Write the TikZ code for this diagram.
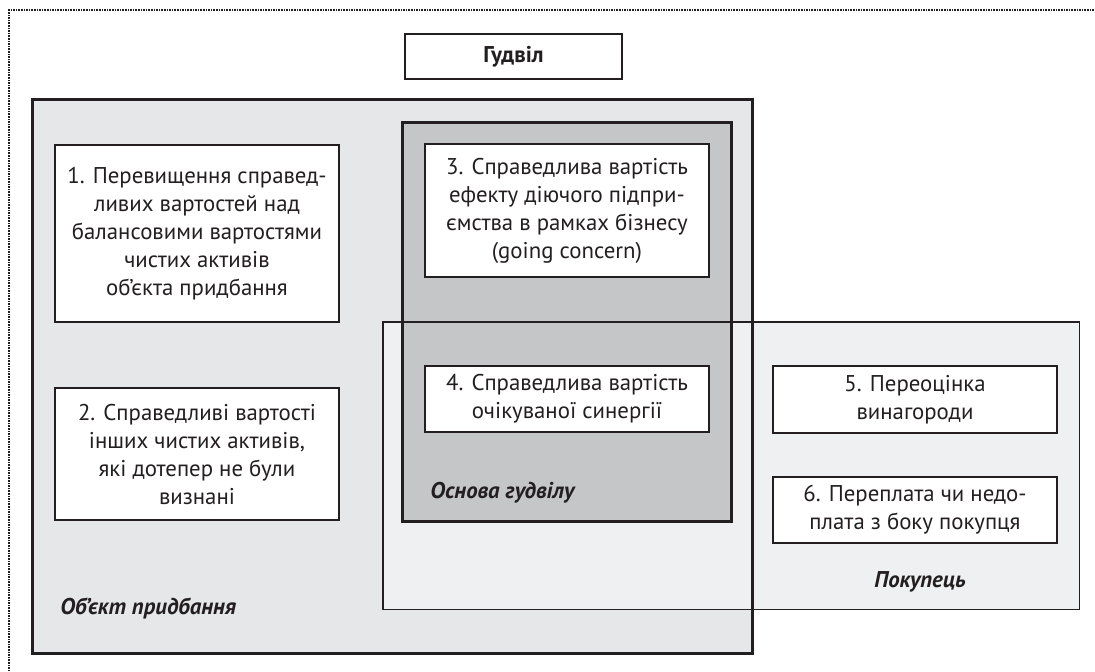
\documentclass[tikz,border=0pt]{standalone}
\usepackage{fontspec}
\setmainfont{PT Sans}
\usepackage{tikz}
\usetikzlibrary{positioning}

\definecolor{edge}{HTML}{231F20}
\definecolor{objfill}{HTML}{E6E7E8}
\definecolor{basefill}{HTML}{C5C6C8}
\definecolor{buyerfill}{HTML}{EFF0F1}

\begin{document}
\begin{tikzpicture}[
    x=0.5pt, y=-0.5pt,
    every node/.style={font=\fontsize{11.4}{14}\selectfont, text=edge},
    region/.style={rectangle, inner sep=0pt, draw=none},
    item/.style={rectangle, draw=edge, line width=1pt, fill=white, minimum width=142pt, text centered, align=center, inner sep=0pt},
    title/.style={rectangle, draw=edge, line width=1.2pt, fill=white, minimum width=108.5pt, minimum height=22.5pt, font=\fontsize{11.4}{14}\selectfont\bfseries},
    tag/.style={font=\fontsize{11.4}{14}\selectfont\bfseries\itshape, inner sep=0pt},
    outline/.style={draw=edge, line width=1.2pt}
]
\useasboundingbox (0,0) rectangle (1095,671);

% dotted frame
\draw[edge, dash pattern=on 0.8pt off 0.5pt, line width=1.3pt] (9,700) -- (9,10) -- (1120,10);

% Regions (fills first)
\node (obj) [region, fill=objfill, minimum width=359.5pt, minimum height=276.5pt] at (392.5,376.5) {};
\node (buyer) [region, fill=buyerfill, minimum width=348pt, minimum height=143.5pt] at (731,465.5) {};
\node (base) [region, fill=basefill, minimum width=164pt, minimum height=199pt] at (567,322) {};

% Region borders
\draw[outline] (obj.south west) rectangle (obj.north east);
\draw[outline] (base.south west) rectangle (base.north east);
\draw[outline, line width=0.9pt] (buyer.south west) rectangle (buyer.north east);

% Title
\node (goodwill) [title] at (513.5,56.5) {Гудвіл};

% Items
\node (one) [item, minimum height=88.5pt] at (197,233.5) {1. Перевищення справед-\\ливих вартостей над\\балансовими вартостями\\чистих активів\\об’єкта придбання};
\node (two) [item, minimum height=66pt] at (197,454) {2. Справедливі вартості\\інших чистих активів,\\які дотепер не були\\визнані};
\node (three) [item, minimum height=66.5pt] at (567,210.5) {3. Справедлива вартість\\ефекту діючого підпри-\\ємства в рамках бізнесу\\(going concern)};
\node (four) [item, minimum height=33pt] at (567,399) {4. Справедлива вартість\\очікуваної синергії};
\node (five) [item, minimum height=33.5pt] at (915,399.5) {5. Переоцінка\\винагороди};
\node (six) [item, minimum height=33pt] at (915,510) {6. Переплата чи недо-\\плата з боку покупця};

% Region labels
\node (objtag) [tag, anchor=west] at (60,608) {Об’єкт придбання};
\node (basetag) [tag, anchor=west] at (430,493) {Основа гудвілу};
\node (buyertag) [tag] at (920,582) {Покупець};

\end{tikzpicture}
\end{document}
